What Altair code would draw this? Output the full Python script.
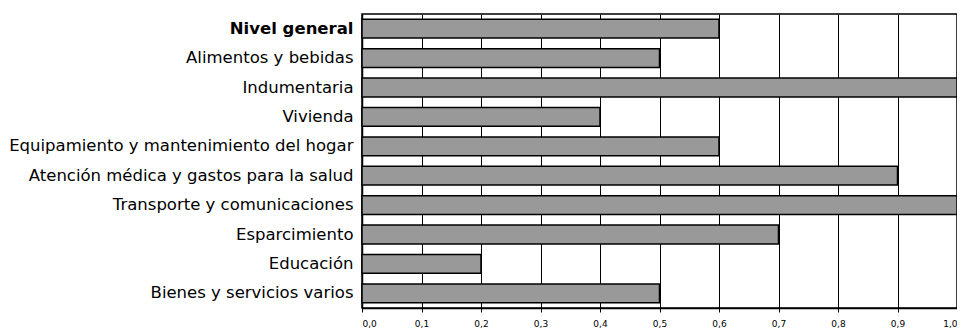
import altair as alt
import pandas as pd

categories = [
    "Nivel general",
    "Alimentos y bebidas",
    "Indumentaria",
    "Vivienda",
    "Equipamiento y mantenimiento del hogar",
    "Atención médica y gastos para la salud",
    "Transporte y comunicaciones",
    "Esparcimiento",
    "Educación",
    "Bienes y servicios varios",
]
values = [0.6, 0.5, 1.0, 0.4, 0.6, 0.9, 1.0, 0.7, 0.2, 0.5]
tick_values = [0.0, 0.1, 0.2, 0.3, 0.4, 0.5, 0.6, 0.7, 0.8, 0.9, 1.0]

df = pd.DataFrame({"cat": categories, "val": values})

chart = alt.Chart(df).mark_bar(
    color="#999999", stroke="black", strokeWidth=1.5
).encode(
    x=alt.X(
        "val:Q",
        scale=alt.Scale(domain=[0, 1], nice=False),
        axis=alt.Axis(
            values=tick_values,
            labelExpr="replace(format(datum.value, '.1f'), '.', ',')",
            title=None,
            grid=True,
            gridColor="black",
            gridWidth=1,
            gridOpacity=1,
            domainColor="black",
            domainWidth=1.5,
            tickColor="black",
            tickSize=4,
            labelFont="DejaVu Sans",
            labelFontSize=9,
            labelColor="black",
            labelPadding=7,
        ),
    ),
    y=alt.Y(
        "cat:N",
        sort=categories,
        scale=alt.Scale(paddingInner=0.36, paddingOuter=0.18),
        axis=alt.Axis(
            title=None,
            ticks=False,
            domainColor="black",
            domainWidth=1.5,
            labelFont="DejaVu Sans",
            labelFontSize=16.5,
            labelColor="black",
            labelPadding=9,
            labelLimit=400,
            labelFontWeight=alt.expr("datum.value == 'Nivel general' ? 'bold' : 'normal'"),
        ),
    ),
).properties(
    width=595,
    height=294,
    autosize=alt.AutoSizeParams(type="none"),
    padding={"left": 354, "top": 6, "right": 0, "bottom": 22},
).configure_view(
    stroke="black", strokeWidth=1.5
)

chart.save("out.html", embed_options={"renderer": "svg", "actions": False})
